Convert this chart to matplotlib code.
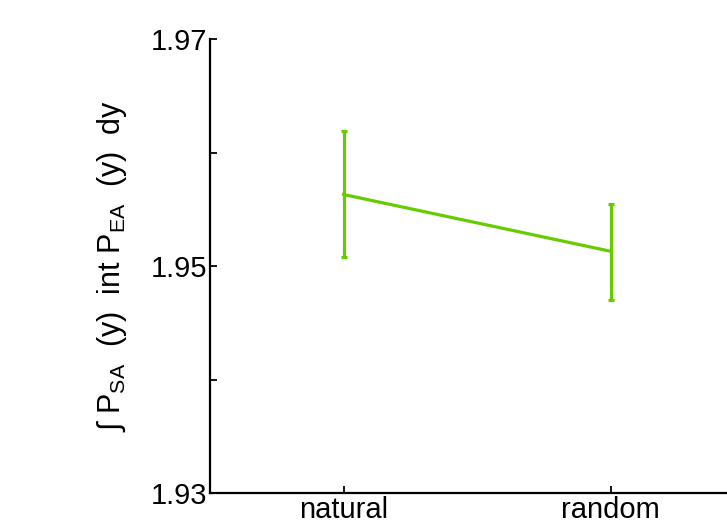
import matplotlib
matplotlib.use('Agg')
import matplotlib.pyplot as plt
import numpy as np

# data
conditions = ['natural', 'random']
means = [1.9563, 1.9513]
err_upper = [1.9619, 1.9555]
err_lower = [1.9508, 1.9470]

plt.rcParams['font.family'] = ['Liberation Sans', 'DejaVu Sans']
plt.rcParams['mathtext.fontset'] = 'custom'
plt.rcParams['mathtext.rm'] = 'Liberation Sans'
plt.rcParams['mathtext.it'] = 'Liberation Sans'

fig = plt.figure(figsize=(7.27, 5.27), dpi=100)
ax = fig.add_axes([0.2889, 0.0645, 0.7345, 0.8615])

x = np.arange(1, len(conditions) + 1)
m = np.array(means)
yerr = [m - np.array(err_lower), np.array(err_upper) - m]
ax.errorbar(x, m, yerr=yerr, color='#66cc00', linewidth=2.3, elinewidth=2.3,
            capsize=2.5, capthick=2.3)

ax.set_xlim(0.5, 2.5)
ax.set_ylim(1.93, 1.97)
ax.set_xticks(x)
ax.set_xticklabels(conditions, fontsize=21)
ax.set_yticks([1.93, 1.94, 1.95, 1.96, 1.97])
ax.set_yticklabels(['1.93', '', '1.95', '', '1.97'], fontsize=21)
ax.tick_params(direction='in', length=5, width=1.3, pad=2)
for side in ['top', 'right']:
  ax.spines[side].set_visible(False)
for side in ['left', 'bottom']:
  ax.spines[side].set_linewidth(1.6)

ax.set_ylabel(r'$\int$ P$_{\mathrm{SA}}$  (y)  int P$_{\mathrm{EA}}$  (y)  dy', fontsize=22, labelpad=16)

plt.savefig('out.png', dpi=100)
